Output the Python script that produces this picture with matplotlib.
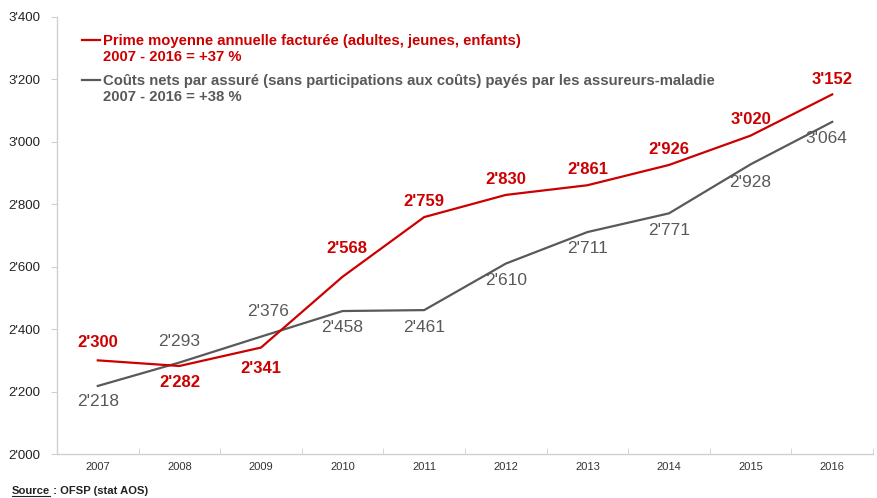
import matplotlib
matplotlib.use("Agg")
import matplotlib.pyplot as plt
from matplotlib.ticker import FixedLocator, NullFormatter

plt.rcParams['font.family'] = ['Liberation Sans', 'DejaVu Sans']

years = ['2007', '2008', '2009', '2010', '2011', '2012', '2013', '2014', '2015', '2016']
prime = [2300, 2282, 2341, 2568, 2759, 2830, 2861, 2926, 3020, 3152]
couts = [2218, 2293, 2376, 2458, 2461, 2610, 2711, 2771, 2928, 3064]
yticks = [2000, 2200, 2400, 2600, 2800, 3000, 3200, 3400]
legend_prime = ["Prime moyenne annuelle facturée (adultes, jeunes, enfants)", "2007 - 2016 = +37 %"]
legend_couts = ["Coûts nets par assuré (sans participations aux coûts) payés par les assureurs-maladie", "2007 - 2016 = +38 %"]

# label offsets (points) — layout only
prime_off = [(0, 12.5), (0, -12), (0, -15), (3, 20), (0, 11), (0, 11), (0, 11), (0, 11), (0, 11.5), (0, 11)]
couts_off = [(0, -11.5), (0, 15.5), (5, 18), (0, -12), (0, -12.5), (0, -12), (0, -12), (0, -12.5), (0, -13), (-4, -12)]

RED = '#CC0000'
GREY = '#595959'

def fmt(v):
    return f"{v // 1000}'{v % 1000:03d}"

fig = plt.figure(figsize=(8.77, 4.98), dpi=100)
ax = fig.add_axes([57/877, 1-454/498, (873-57)/877, (454-17)/498])

x = list(range(len(years)))
ax.plot(x, couts, color=GREY, lw=1.6)
ax.plot(x, prime, color=RED, lw=1.6)

for xi, v, o in zip(x, prime, prime_off):
    ax.annotate(fmt(v), (xi, v), xytext=o, textcoords='offset points',
                ha='center', va='center', color=RED, fontsize=12, fontweight='bold')
for xi, v, o in zip(x, couts, couts_off):
    ax.annotate(fmt(v), (xi, v), xytext=o, textcoords='offset points',
                ha='center', va='center', color=GREY, fontsize=12.5)

ax.set_xlim(-0.5, len(years) - 0.5)
ax.set_ylim(2000, 3400)
ax.set_yticks(yticks)
ax.set_yticklabels([fmt(v) for v in yticks], fontsize=9.5, color='#222222')
ax.set_xticks(x)
ax.set_xticklabels(years, fontsize=8, color='#333333')
ax.tick_params(axis='x', length=0, pad=6)
ax.xaxis.set_minor_locator(FixedLocator([i - 0.5 for i in range(len(years) + 1)]))
ax.xaxis.set_minor_formatter(NullFormatter())
ax.tick_params(axis='x', which='minor', length=4, color='#D0D0D0', direction='in')
ax.tick_params(axis='y', length=4, color='#D0D0D0', pad=8)
for s in ['top', 'right']:
    ax.spines[s].set_visible(False)
for s in ['left', 'bottom']:
    ax.spines[s].set_color('#D0D0D0')
    ax.spines[s].set_linewidth(1.0)

# legend
def legend_entry(y1, y2, color, lines):
    fig.add_artist(plt.Line2D([82/877, 100/877], [1-y1/498, 1-y1/498], color=color, lw=1.6))
    fig.text(103/877, 1-y1/498, lines[0], color=color, fontsize=10.7, fontweight='bold', va='center', ha='left')
    fig.text(103/877, 1-y2/498, lines[1], color=color, fontsize=10.7, fontweight='bold', va='center', ha='left')

legend_entry(40.5, 57, RED, legend_prime)
legend_entry(80.5, 97, GREY, legend_couts)

t = fig.text(12/877, 1-490.5/498, "Source", fontsize=8.1, fontweight='bold', va='center', ha='left', color='#222222')
fig.canvas.draw()
bb = t.get_window_extent()
fig.add_artist(plt.Line2D([bb.x0/877, bb.x1/877], [(bb.y0 - 0.5)/498, (bb.y0 - 0.5)/498], color='#222222', lw=0.8))
fig.text(bb.x1/877, 1-490.5/498, " : OFSP (stat AOS)", fontsize=8.1, fontweight='bold', va='center', ha='left', color='#222222')

fig.savefig('out.png', dpi=100)
